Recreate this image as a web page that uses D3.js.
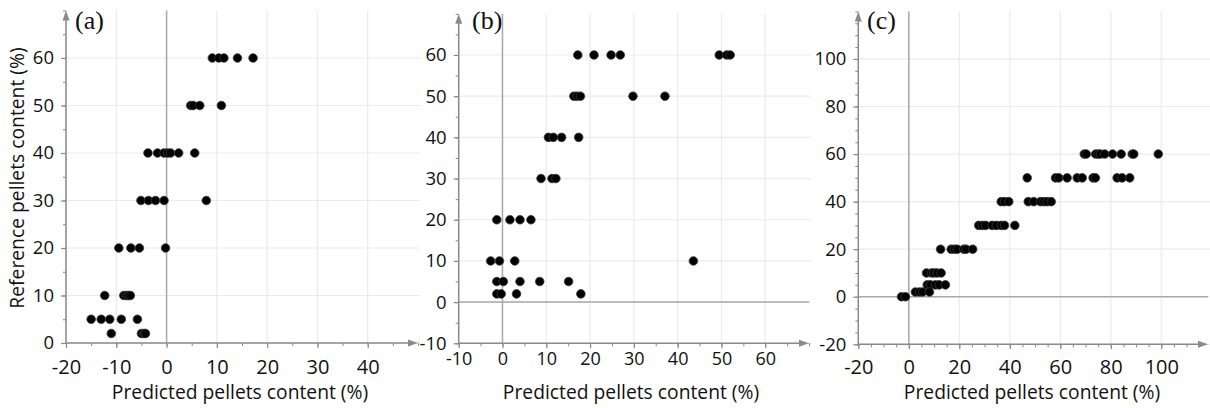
<!DOCTYPE html>
<html>
<head>
<meta charset="utf-8">
<script src="https://cdn.jsdelivr.net/npm/d3@7"></script>
<style>
  html, body { margin: 0; padding: 0; background: #fff; }
  svg { display: block; }
  .tick text { font-family: "Open Sans", "DejaVu Sans", sans-serif; fill: #111; }
  .title { font-family: "Open Sans", "DejaVu Sans", sans-serif; fill: #111; }
  .plabel { font-family: "Liberation Serif", "DejaVu Serif", serif; fill: #111; }
</style>
</head>
<body>
<svg id="chart" width="1210" height="408"></svg>
<script>
// ---------------- data ----------------
const panelLabels = ["(a)", "(b)", "(c)"];
const xTitle = "Predicted pellets content (%)";
const yTitle = "Reference pellets content (%)";

const aTicksX = [-20, -10, 0, 10, 20, 30, 40];
const aTicksY = [0, 10, 20, 30, 40, 50, 60];
const bTicksX = [-10, 0, 10, 20, 30, 40, 50, 60];
const bTicksY = [-10, 0, 10, 20, 30, 40, 50, 60];
const cTicksX = [-20, 0, 20, 40, 60, 80, 100];
const cTicksY = [-20, 0, 20, 40, 60, 80, 100];

// panel (a): predicted (x) vs reference (y)
const aPred = [9.1, 10.4, 11.4, 14.1, 17.2,
               4.8, 5.3, 6.6, 10.9,
               -3.7, -1.8, -0.5, 0.2, 0.8, 2.4, 5.6,
               -5.1, -3.6, -2.2, -0.5, 7.9,
               -9.5, -7.1, -5.4, -0.2,
               -12.3, -8.5, -8.0, -7.6, -7.2,
               -15.0, -13.0, -11.3, -9.0, -5.8,
               -11.0, -5.0, -4.5, -4.2];
const aRef  = [60, 60, 60, 60, 60,
               50, 50, 50, 50,
               40, 40, 40, 40, 40, 40, 40,
               30, 30, 30, 30, 30,
               20, 20, 20, 20,
               10, 10, 10, 10, 10,
               5, 5, 5, 5, 5,
               2, 2, 2, 2];

// panel (b)
const bPred = [17.2, 20.9, 24.8, 26.9, 49.5, 51.2, 52.0,
               16.3, 17.0, 17.8, 29.8, 37.1,
               10.5, 11.6, 13.5, 17.4,
               8.8, 11.3, 12.2,
               -1.3, 1.7, 4.0, 6.5,
               -2.7, -0.7, 2.8, 43.6,
               -1.3, 0.2, 4.0, 8.5, 15.1,
               -1.3, -0.3, 3.2, 17.9];
const bRef  = [60, 60, 60, 60, 60, 60, 60,
               50, 50, 50, 50, 50,
               40, 40, 40, 40,
               30, 30, 30,
               20, 20, 20, 20,
               10, 10, 10, 10,
               5, 5, 5, 5, 5,
               2, 2, 2, 2];

// panel (c)
const cPred = [69.5, 70.3, 74.0, 75.0, 75.9, 77.6, 80.7, 84.1, 88.5, 89.1, 98.8,
               46.9, 58.1, 59.4, 62.7, 66.7, 68.7, 73.0, 73.9, 82.5, 84.5, 87.5,
               36.6, 37.9, 39.6, 47.3, 49.5, 52.2, 53.5, 54.8, 56.4,
               27.7, 29.1, 30.4, 33.0, 34.7, 36.6, 37.9, 42.0,
               12.6, 16.8, 18.1, 19.2, 21.8, 22.7, 25.3,
               7.0, 9.0, 9.9, 11.2, 12.8,
               7.3, 8.6, 10.6, 12.0, 14.5,
               2.6, 4.2, 5.5, 8.2,
               -2.9, -1.3];
const cRef  = [60, 60, 60, 60, 60, 60, 60, 60, 60, 60, 60,
               50, 50, 50, 50, 50, 50, 50, 50, 50, 50, 50,
               40, 40, 40, 40, 40, 40, 40, 40, 40,
               30, 30, 30, 30, 30, 30, 30, 30,
               20, 20, 20, 20, 20, 20, 20,
               10, 10, 10, 10, 10,
               5, 5, 5, 5, 5,
               2, 2, 2, 2,
               0, 0];

// ---------------- drawing ----------------
const svg = d3.select("#chart");

const panels = [
  { label: panelLabels[0], pred: aPred, ref: aRef, xTicks: aTicksX, yTicks: aTicksY,
    xDom: [-20, 50], xRange: [66, 418], yDom: [0, 70], yRange: [343, 10.5],
    minor: 5, labelPos: [75, 29], xTitleX: 240, xLabelDy: 12, xFont: 20, showY: true },
  { label: panelLabels[1], pred: bPred, ref: bRef, xTicks: bTicksX, yTicks: bTicksY,
    xDom: [-10, 70], xRange: [458.7, 809], yDom: [-10, 70], yRange: [343.3, 13.8],
    minor: 5, labelPos: [472, 29], xTitleX: 631, xLabelDy: 4, xFont: 18, showY: false },
  { label: panelLabels[2], pred: cPred, ref: cRef, xTicks: cTicksX, yTicks: cTicksY,
    xDom: [-20, 118.5], xRange: [858.3, 1208], yDom: [-20, 120], yRange: [344.3, 11.4],
    minor: 5, labelPos: [867, 29], xTitleX: 1032, xLabelDy: 11, xFont: 20, showY: false }
];

const gridColor = "#ebebeb";
const zeroColor = "#a9a9a9";
const axisColor = "#8a8a8a";

panels.forEach(p => {
  const x = d3.scaleLinear().domain(p.xDom).range(p.xRange);
  const y = d3.scaleLinear().domain(p.yDom).range(p.yRange);
  const g = svg.append("g");

  const minorX = d3.range(p.xDom[0], p.xDom[1] + 0.001, p.minor);
  const minorY = d3.range(p.yDom[0], p.yDom[1] + 0.001, p.minor);

  // grid lines
  g.append("g").selectAll("line").data(p.xTicks)
    .join("line")
    .attr("x1", d => x(d)).attr("x2", d => x(d))
    .attr("y1", y.range()[0]).attr("y2", y.range()[1])
    .attr("stroke", gridColor).attr("stroke-width", 1.2);
  g.append("g").selectAll("line").data(p.yTicks)
    .join("line")
    .attr("x1", x.range()[0]).attr("x2", x.range()[1] + 2)
    .attr("y1", d => y(d)).attr("y2", d => y(d))
    .attr("stroke", gridColor).attr("stroke-width", 1.2);

  // zero lines
  if (p.xDom[0] < 0) {
    g.append("line")
      .attr("x1", x(0)).attr("x2", x(0))
      .attr("y1", y.range()[0]).attr("y2", y.range()[1])
      .attr("stroke", zeroColor).attr("stroke-width", 1.5);
  }
  if (p.yDom[0] < 0) {
    g.append("line")
      .attr("x1", x.range()[0]).attr("x2", x.range()[1])
      .attr("y1", y(0)).attr("y2", y(0))
      .attr("stroke", zeroColor).attr("stroke-width", 1.5);
  }

  // minor ticks via d3 axes
  const xMinor = g.append("g").attr("transform", `translate(0,${y.range()[0]})`)
    .call(d3.axisBottom(x).tickValues(minorX).tickSize(3).tickFormat(""));
  const yMinor = g.append("g").attr("transform", `translate(${x.range()[0]},0)`)
    .call(d3.axisLeft(y).tickValues(minorY).tickSize(3).tickFormat(""));
  [xMinor, yMinor].forEach(a => {
    a.select(".domain").remove();
    a.selectAll("line").attr("stroke", axisColor);
  });

  // major axes
  const xAxis = g.append("g").attr("transform", `translate(0,${y.range()[0]})`)
    .call(d3.axisBottom(x).tickValues(p.xTicks).tickSize(5).tickPadding(p.xLabelDy)
      .tickFormat(d3.format("d")));
  const yAxis = g.append("g").attr("transform", `translate(${x.range()[0]},0)`)
    .call(d3.axisLeft(y).tickValues(p.yTicks).tickSize(5).tickPadding(7)
      .tickFormat(d3.format("d")));
  xAxis.selectAll("text").attr("font-size", p.xFont).text(d => d < 0 ? "-" + Math.abs(d) : d);
  yAxis.selectAll("text").attr("font-size", 18.5).text(d => d < 0 ? "-" + Math.abs(d) : d);
  [xAxis, yAxis].forEach(a => {
    a.select(".domain").remove();
    a.selectAll("line").attr("stroke", axisColor).attr("stroke-width", 1.2);
  });

  // axis lines with arrows
  const x0 = x.range()[0], x1 = x.range()[1], yb = y.range()[0], yt = y.range()[1];
  g.append("line").attr("x1", x0).attr("x2", x1 - 4).attr("y1", yb).attr("y2", yb)
    .attr("stroke", axisColor).attr("stroke-width", 1.5);
  g.append("path").attr("d", `M${x1},${yb} L${x1 - 10},${yb - 3.5} L${x1 - 10},${yb + 3.5} Z`)
    .attr("fill", axisColor);
  g.append("line").attr("x1", x0).attr("x2", x0).attr("y1", yb).attr("y2", yt + 4)
    .attr("stroke", axisColor).attr("stroke-width", 1.5);
  g.append("path").attr("d", `M${x0},${yt} L${x0 - 3.5},${yt + 10} L${x0 + 3.5},${yt + 10} Z`)
    .attr("fill", axisColor);

  // points
  g.append("g").selectAll("circle")
    .data(p.pred.map((v, i) => ({ px: v, ry: p.ref[i] })))
    .join("circle")
    .attr("cx", d => x(d.px)).attr("cy", d => y(d.ry))
    .attr("r", 4.3)
    .attr("fill", "#000").attr("stroke", "#3a3a3a").attr("stroke-width", 0.8);

  // panel label
  g.append("text").attr("class", "plabel")
    .attr("x", p.labelPos[0]).attr("y", p.labelPos[1])
    .attr("font-size", 26).text(p.label);

  // x title
  g.append("text").attr("class", "title")
    .attr("x", p.xTitleX).attr("y", 399)
    .attr("text-anchor", "middle").attr("font-size", 19.3)
    .text(xTitle);

  if (p.showY) {
    g.append("text").attr("class", "title")
      .attr("transform", "translate(24,178) rotate(-90)")
      .attr("text-anchor", "middle").attr("font-size", 19.3)
      .text(yTitle);
  }
});
</script>
</body>
</html>
